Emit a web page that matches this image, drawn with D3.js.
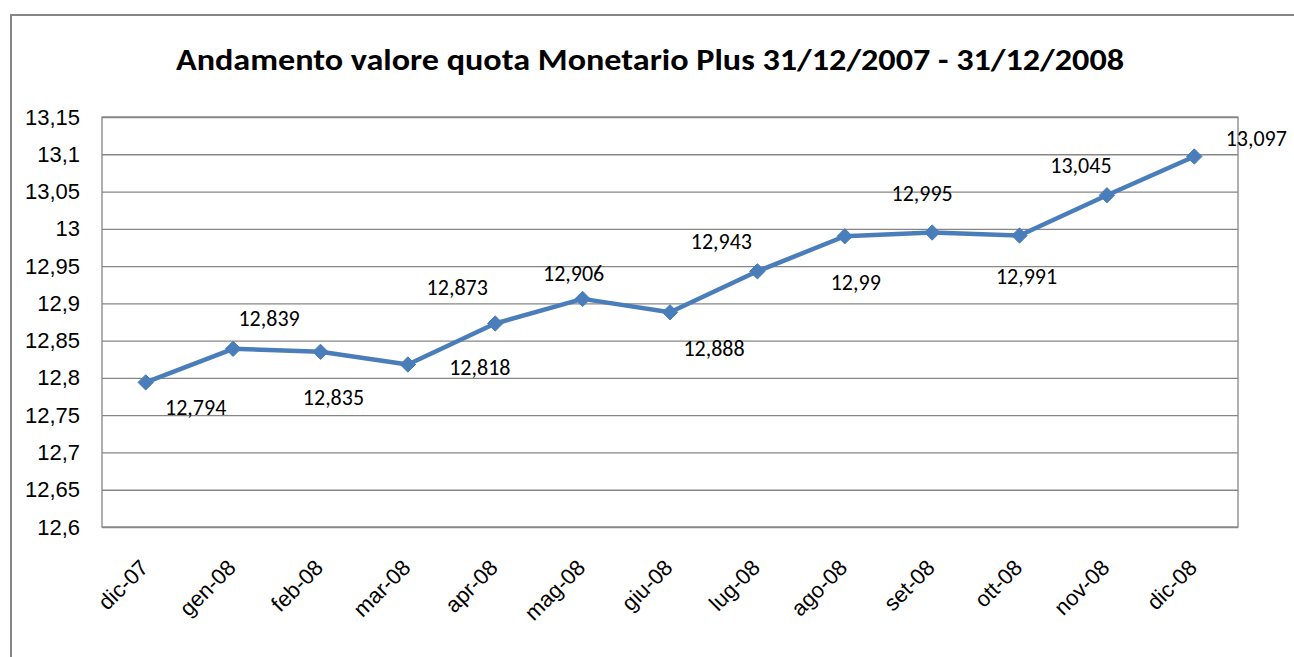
<!DOCTYPE html>
<html>
<head>
<meta charset="utf-8">
<script src="https://cdn.jsdelivr.net/npm/d3@7"></script>
<style>
  html, body { margin: 0; padding: 0; background: #fff; }
  svg { display: block; font-family: Calibri, Carlito, Lato, sans-serif; }
</style>
</head>
<body>
<div id="chart"></div>
<script>
// data
const months = ['dic-07', 'gen-08', 'feb-08', 'mar-08', 'apr-08', 'mag-08', 'giu-08',
                'lug-08', 'ago-08', 'set-08', 'ott-08', 'nov-08', 'dic-08'];
const quota = [12.794, 12.839, 12.835, 12.818, 12.873, 12.906, 12.888,
               12.943, 12.990, 12.995, 12.991, 13.045, 13.097];
const yTicks = [12.6, 12.65, 12.7, 12.75, 12.8, 12.85, 12.9, 12.95, 13, 13.05, 13.1, 13.15];
const title = 'Andamento valore quota Monetario Plus 31/12/2007 - 31/12/2008';

// where each data label sits relative to its point (Excel's auto placement)
const labelShift = [[50, 25], [36, -31], [13, 45], [72, 3], [-38, -36], [-9, -26], [44, 36],
                    [-36, -30], [11, 46], [-10, -39], [7, 41], [-26, -30], [62, -18]];

const width = 1294, height = 657;
const margin = { top: 117, right: 56, bottom: 130, left: 102 };

const svg = d3.select('#chart').append('svg')
    .attr('width', width)
    .attr('height', height);

// outer chart frame (only left and top edges are inside the picture)
svg.append('path')
    .attr('d', `M11,${height} L11,15 L${width},15`)
    .attr('fill', 'none')
    .attr('stroke', '#868686')
    .attr('stroke-width', 2);

const x = d3.scaleBand()
    .domain(months)
    .range([margin.left, width - margin.right]);

const y = d3.scaleLinear()
    .domain([12.6, 13.15])
    .range([height - margin.bottom, margin.top]);

const fmt = v => String(+v.toFixed(3)).replace('.', ',');

// gridlines + y axis labels
const yAxis = svg.append('g')
    .attr('transform', `translate(${margin.left},0)`)
    .call(d3.axisLeft(y).tickValues(yTicks).tickFormat(fmt)
        .tickSize(-(width - margin.left - margin.right)).tickPadding(22));
yAxis.select('.domain').remove();
yAxis.selectAll('line').attr('stroke', '#868686').attr('stroke-width', 1.3);
yAxis.selectAll('text').attr('font-size', 22).attr('fill', '#000');

// plot area border
svg.append('rect')
    .attr('x', margin.left)
    .attr('y', margin.top)
    .attr('width', width - margin.left - margin.right)
    .attr('height', height - margin.top - margin.bottom)
    .attr('fill', 'none')
    .attr('stroke', '#868686')
    .attr('stroke-width', 1.3);

// x axis labels, rotated
const xAxis = svg.append('g')
    .attr('transform', `translate(0,${height - margin.bottom})`)
    .call(d3.axisBottom(x).tickSize(0).tickPadding(0));
xAxis.select('.domain').remove();
xAxis.selectAll('text')
    .attr('font-size', 22)
    .attr('fill', '#000')
    .attr('text-anchor', 'end')
    .attr('dy', 0)
    .attr('transform', 'translate(4,42) rotate(-45)');

const cx = m => x(m) + x.bandwidth() / 2;

// line
svg.append('path')
    .datum(quota)
    .attr('fill', 'none')
    .attr('stroke', '#4A7EBB')
    .attr('stroke-width', 4.5)
    .attr('stroke-linejoin', 'round')
    .attr('d', d3.line().x((d, i) => cx(months[i])).y(d => y(d)));

// diamond markers
svg.selectAll('.marker')
    .data(quota)
    .join('path')
    .attr('class', 'marker')
    .attr('d', d3.symbol(d3.symbolDiamond2, 150))
    .attr('transform', (d, i) => `translate(${cx(months[i])},${y(d)})`)
    .attr('fill', '#4A7EBB')
    .attr('stroke', '#4A7EBB')
    .attr('stroke-width', 1);

// data labels
svg.selectAll('.dlabel')
    .data(quota)
    .join('text')
    .attr('class', 'dlabel')
    .attr('x', (d, i) => cx(months[i]) + labelShift[i][0])
    .attr('y', (d, i) => y(d) + labelShift[i][1])
    .attr('dy', '0.35em')
    .attr('text-anchor', 'middle')
    .attr('font-size', 22)
    .attr('fill', '#000')
    .text(d => fmt(d));

// title
svg.append('text')
    .attr('x', 650)
    .attr('y', 70)
    .attr('text-anchor', 'middle')
    .attr('font-size', 30)
    .attr('font-weight', 'bold')
    .attr('textLength', 948)
    .attr('lengthAdjust', 'spacingAndGlyphs')
    .text(title);
</script>
</body>
</html>
